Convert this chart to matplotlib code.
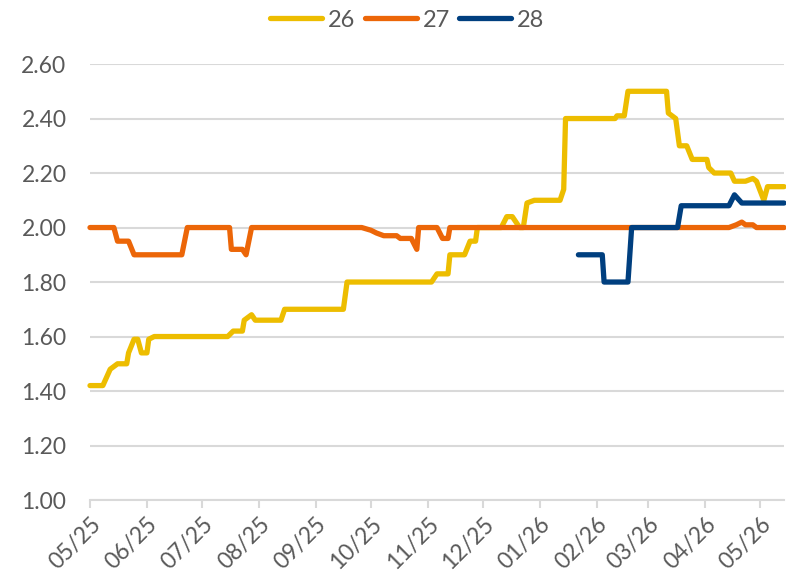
import numpy as np
import pandas as pd
import matplotlib as mpl; mpl.use("Agg")
import matplotlib.pyplot as plt
import matplotlib.dates as mdates

plt.rcParams.update({"font.family": ["Lato", "DejaVu Sans"], "font.size": 16.5})

# series "26" (yellow) - breakpoints
d26 = ["2025-05-01", "2025-05-08", "2025-05-12", "2025-05-16", "2025-05-21", "2025-05-22",
       "2025-05-25", "2025-05-27", "2025-05-29", "2025-06-01", "2025-06-02", "2025-06-05",
       "2025-07-15", "2025-07-18", "2025-07-23", "2025-07-24", "2025-07-28", "2025-07-30",
       "2025-08-13", "2025-08-15", "2025-09-16", "2025-09-18", "2025-11-03", "2025-11-06",
       "2025-11-12", "2025-11-13", "2025-11-21", "2025-11-24", "2025-11-27", "2025-11-28",
       "2025-12-11", "2025-12-14", "2025-12-17", "2025-12-21", "2025-12-23", "2025-12-25",
       "2025-12-29", "2026-01-12", "2026-01-14", "2026-01-15", "2026-02-11", "2026-02-12",
       "2026-02-16", "2026-02-18", "2026-03-11", "2026-03-12", "2026-03-16", "2026-03-18",
       "2026-03-22", "2026-03-25", "2026-04-02", "2026-04-03", "2026-04-06", "2026-04-15",
       "2026-04-17", "2026-04-23", "2026-04-27", "2026-04-29", "2026-05-03", "2026-05-05",
       "2026-05-14"]
v26 = [1.42, 1.42, 1.48, 1.50, 1.50, 1.54,
       1.59, 1.59, 1.54, 1.54, 1.59, 1.60,
       1.60, 1.62, 1.62, 1.66, 1.68, 1.66,
       1.66, 1.70, 1.70, 1.80, 1.80, 1.83,
       1.83, 1.90, 1.90, 1.95, 1.95, 2.00,
       2.00, 2.04, 2.04, 2.00, 2.00, 2.09,
       2.10, 2.10, 2.14, 2.40, 2.40, 2.41,
       2.41, 2.50, 2.50, 2.42, 2.40, 2.30,
       2.30, 2.25, 2.25, 2.22, 2.20, 2.20,
       2.17, 2.17, 2.18, 2.17, 2.10, 2.15,
       2.15]

# series "27" (orange)
d27 = ["2025-05-01", "2025-05-14", "2025-05-16", "2025-05-22", "2025-05-25", "2025-06-20",
       "2025-06-23", "2025-07-16", "2025-07-17", "2025-07-23", "2025-07-25", "2025-07-28",
       "2025-09-26", "2025-10-01", "2025-10-04", "2025-10-08", "2025-10-15", "2025-10-17",
       "2025-10-23", "2025-10-26", "2025-10-27", "2025-11-06", "2025-11-09", "2025-11-12",
       "2025-11-13", "2026-04-14", "2026-04-18", "2026-04-21", "2026-04-23", "2026-04-27",
       "2026-04-29", "2026-05-14"]
v27 = [2.00, 2.00, 1.95, 1.95, 1.90, 1.90,
       2.00, 2.00, 1.92, 1.92, 1.90, 2.00,
       2.00, 1.99, 1.98, 1.97, 1.97, 1.96,
       1.96, 1.92, 2.00, 2.00, 1.96, 1.96,
       2.00, 2.00, 2.01, 2.02, 2.01, 2.01,
       2.00, 2.00]

# series "28" (navy)
d28 = ["2026-01-22", "2026-02-04", "2026-02-05", "2026-02-18", "2026-02-20", "2026-03-17",
       "2026-03-19", "2026-04-14", "2026-04-17", "2026-04-21", "2026-05-14"]
v28 = [1.90, 1.90, 1.80, 1.80, 2.00, 2.00,
       2.08, 2.08, 2.12, 2.09, 2.09]

labels = ["26", "27", "28"]
colors = ["#EDBD00", "#EC6608", "#003F7F"]
yticks = [1.00, 1.20, 1.40, 1.60, 1.80, 2.00, 2.20, 2.40, 2.60]

GRAY = "#595959"; GRID = "#D9D9D9"

fig = plt.figure(figsize=(7.86, 5.77), dpi=100)
ax = fig.add_axes([0.1145, 0.1334, 0.8830, 0.7556])

for d, v, lab, c in zip([d26, d27, d28], [v26, v27, v28], labels, colors):
    ax.plot(pd.to_datetime(d), v, color=c, lw=3.8, label=lab,
            solid_capstyle="round", solid_joinstyle="round", clip_on=False, zorder=3)

ax.set_ylim(1.0, 2.6)
ax.set_yticks(yticks)
ax.yaxis.set_major_formatter(mpl.ticker.FormatStrFormatter("%.2f"))
ax.set_xlim(pd.Timestamp("2025-05-01"), pd.Timestamp("2026-05-14"))
ax.xaxis.set_major_locator(mdates.MonthLocator())
ax.xaxis.set_major_formatter(mdates.DateFormatter("%m/%y"))

ax.grid(axis="y", color=GRID, lw=1.5, zorder=0)
for s in ["left", "right", "top"]:
    ax.spines[s].set_visible(False)
ax.spines["bottom"].set_color(GRID); ax.spines["bottom"].set_linewidth(1.5)
ax.tick_params(axis="y", length=0, pad=17, colors=GRAY, labelsize=16.5)
ax.tick_params(axis="x", length=6, width=1.5, colors=GRAY, labelsize=16.5, pad=4)
ax.tick_params(axis="x", color=GRID)
for t in ax.get_xticklabels():
    t.set_rotation(45); t.set_ha("right"); t.set_rotation_mode("anchor")

fig.legend(loc="upper center", bbox_to_anchor=(0.518, 1.02), ncol=3, frameon=False,
           fontsize=17, handlelength=2.2, handletextpad=0.25, columnspacing=0.4,
           labelcolor=GRAY)

fig.savefig("out.png", dpi=100)
